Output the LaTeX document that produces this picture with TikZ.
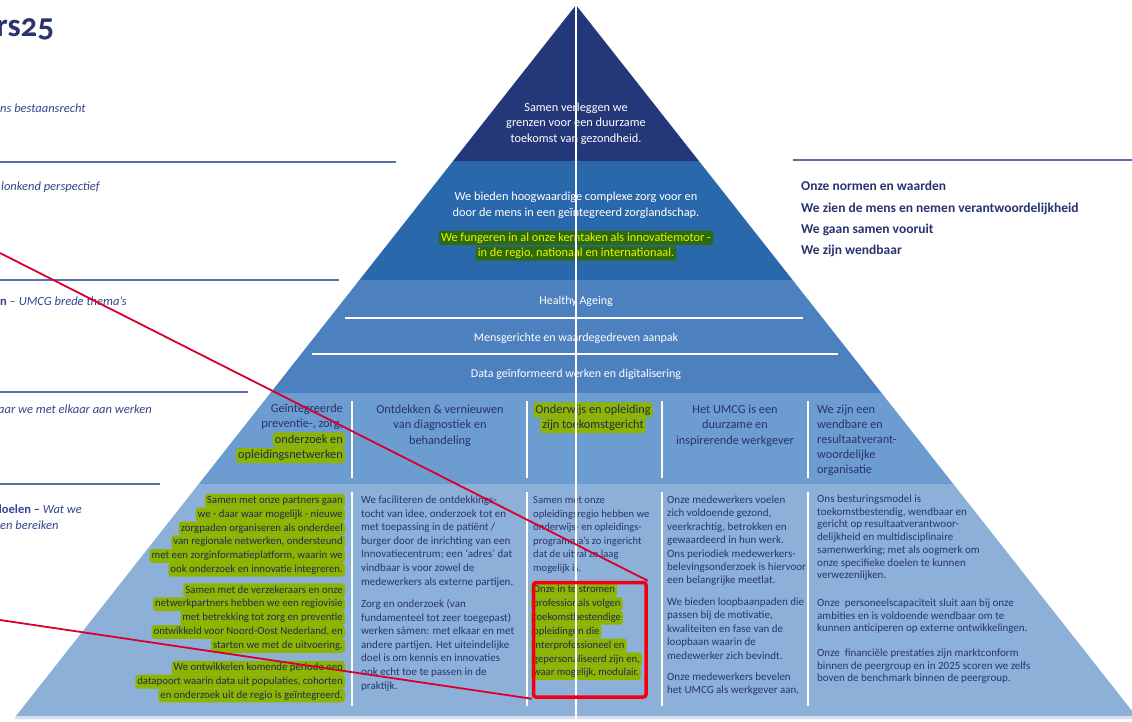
\documentclass[tikz,border=0pt]{standalone}
\usepackage{fontspec}
\setmainfont{Carlito}
\usetikzlibrary{calc}
\definecolor{navy}{HTML}{233779}
\definecolor{bandtwo}{HTML}{2A68AC}
\definecolor{bandthree}{HTML}{4C80BE}
\definecolor{bandfour}{HTML}{6C9CD0}
\definecolor{bandfive}{HTML}{8DB0D8}
\definecolor{basestrip}{HTML}{D5DFEE}
\definecolor{ink}{HTML}{28336F}
\definecolor{leftink}{HTML}{35458C}
\definecolor{rulecol}{HTML}{5A6EA8}
\definecolor{hlgreen}{HTML}{8DB500}
\definecolor{hltext}{HTML}{1F2A5A}
\definecolor{hldark}{HTML}{2E6A10}
\definecolor{hlyellow}{HTML}{ECF400}
\definecolor{redmark}{HTML}{F00010}
\definecolor{redconn}{HTML}{D8002C}
\tikzset{
  bodytext/.style={inner sep=0pt, text=ink, align=left, font=\fontsize{11}{13.6}\selectfont},
  headtext/.style={inner sep=0pt, text=ink, align=center, font=\fontsize{12.3}{15.5}\selectfont},
  whitetext/.style={inner sep=0pt, text=white, align=center, font=\fontsize{12.3}{15.5}\selectfont},
  thematext/.style={inner sep=0pt, text=white, font=\fontsize{12}{14}\selectfont},
  hlbox/.style={fill=hlgreen, text=hltext, rounded corners=3pt, inner xsep=2pt, inner ysep=1.6pt, text height=8pt, text depth=2.6pt, font=\fontsize{10.8}{13.6}\selectfont},
  hlhead/.style={hlbox, text height=9pt, text depth=3pt, font=\fontsize{12.3}{15.5}\selectfont},
  hltop/.style={fill=hldark, text=hlyellow, rounded corners=3pt, inner xsep=2pt, inner ysep=1.2pt, text height=9pt, text depth=3pt, font=\fontsize{12.3}{15.5}\selectfont},
  lefttext/.style={inner sep=0pt, text=leftink, font=\fontsize{12.5}{16}\selectfont},
  valuetext/.style={inner sep=0pt, text=ink, font=\fontsize{13.5}{21}\selectfont\bfseries},
  siderule/.style={draw=rulecol, line width=1.4pt},
  sepline/.style={draw=white, line width=1.3pt},
  focusbox/.style={draw=redmark, line width=3.5pt, rounded corners=2.5pt, minimum width=112.5pt, minimum height=114.5pt, inner sep=0pt},
  redlink/.style={draw=redconn, line width=1.8pt}
}
% #1 name prefix, #2 style, #3 anchor, #4 x, #5 first baseline y, #6 line step, #7 lines
\newcommand\hllines[7]{%
  \foreach \txt [count=\i from 0] in {#7} {%
    \node[#2, anchor=#3] (#1\i) at (#4, {#5+#6*\i}) {\txt};}}
\begin{document}
\begin{tikzpicture}[x=1pt,y=-1pt]
\useasboundingbox (0,0) rectangle (1132,721);
\fill[white] (0,0) rectangle (1132,721);
% ---------- pyramid bands ----------
\fill[navy] (576,5) -- (698.9,161) -- (453.1,161) -- cycle;
\fill[bandtwo] (453.1,161) -- (698.9,161) -- (792.6,280) -- (359.4,280) -- cycle;
\fill[bandthree] (359.4,280) -- (792.6,280) -- (881.6,393) -- (270.4,393) -- cycle;
\fill[bandfour] (270.4,393) -- (881.6,393) -- (953.3,484) -- (198.7,484) -- cycle;
\fill[bandfive] (198.7,484) -- (953.3,484) -- (1136,716) -- (16,716) -- cycle;
\fill[basestrip] (16,716) -- (1132,716) -- (1132,719) -- (14,719) -- cycle;
% ---------- white rules inside pyramid ----------
\draw[sepline] (345,318) -- (803,318);
\draw[sepline] (312,354) -- (838,354);
\foreach \xx in {352,527,662,808} {
  \draw[sepline] (\xx,401) -- (\xx,478);
  \draw[sepline] (\xx,492) -- (\xx,706);
}
% ---------- side rules ----------
\draw[siderule] (0,162) -- (396,162);
\draw[siderule] (0,280) -- (339,280);
\draw[siderule] (0,392) -- (248,392);
\draw[siderule] (0,484) -- (160,484);
\draw[siderule] (793,160) -- (1132,160);
% ---------- title and left labels ----------
\node[inner sep=0pt, text=ink, anchor=base west, font=\fontsize{33}{35}\selectfont\bfseries\addfontfeatures{Numbers=OldStyle}] (title) at (-4,36) {rs25};
\node[lefttext, anchor=base west] (lt1) at (0,112) {\itshape ns bestaansrecht};
\node[lefttext, anchor=base west] (lt2) at (1,190) {\itshape lonkend perspectief};
\node[lefttext, anchor=base west] (lt3) at (0,305) {{\bfseries n} \textit{– UMCG brede thema’s}};
\node[lefttext, anchor=base west] (lt4) at (-2,413) {\itshape aar we met elkaar aan werken};
\node[lefttext, anchor=base west] (lt5) at (-5,513) {{\bfseries doelen –} \textit{Wat we}};
\node[lefttext, anchor=base west] (lt6) at (0,529) {\itshape en bereiken};
% ---------- values on the right ----------
\node[valuetext, anchor=base west] (val0) at (801,190) {Onze normen en waarden};
\node[valuetext, anchor=base west] (val1) at (801,212) {We zien de mens en nemen verantwoordelijkheid};
\node[valuetext, anchor=base west] (val2) at (801,233) {We gaan samen vooruit};
\node[valuetext, anchor=base west] (val3) at (801,254) {We zijn wendbaar};
% ---------- top bands (anchor base = last line baseline) ----------
\node[whitetext, anchor=base] (vision) at (576,142) {Samen verleggen we\\grenzen voor een duurzame\\toekomst van gezondheid.};
\node[whitetext, anchor=base, font=\fontsize{12.3}{16}\selectfont] (mission) at (576,216) {We bieden hoogwaardige complexe zorg voor en\\door de mens in een geïntegreerd zorglandschap.};
\hllines{motor}{hltop}{base}{576}{241}{15.5}{We fungeren in al onze kerntaken als innovatiemotor -, {in de regio, nationaal en internationaal.}}
\node[thematext, anchor=base] (thema1) at (576,304) {Healthy Ageing};
\node[thematext, anchor=base] (thema2) at (576,341) {Mensgerichte en waardegedreven aanpak};
\node[thematext, anchor=base] (thema3) at (576,377) {Data geïnformeerd werken en digitalisering};
% ---------- column headers ----------
\node[headtext, anchor=base east, align=right] (h1) at (343,427.5) {Geïntegreerde\\preventie-, zorg,};
\hllines{h1hl}{hlhead}{base east}{345}{443}{15.5}{onderzoek en, opleidingsnetwerken}
\node[headtext, anchor=base] (h2) at (440,444) {Ontdekken \& vernieuwen\\van diagnostiek en\\behandeling};
\hllines{h3hl}{hlhead}{base}{593}{413}{15.5}{Onderwijs en opleiding, zijn toekomstgericht}
\node[headtext, anchor=base] (h4) at (735,444) {Het UMCG is een\\duurzame en\\inspirerende werkgever};
\node[headtext, anchor=base west, align=left, font=\fontsize{12.3}{15.2}\selectfont] (h5) at (817,473.8) {We zijn een\\wendbare en\\resultaatverant-\\woordelijke\\organisatie};
% ---------- column 1 (highlighted) ----------
\hllines{c1a}{hlbox}{base east}{345}{503.5}{13.8}{Samen met onze partners gaan, we - daar waar mogelijk - nieuwe, zorgpaden organiseren als onderdeel, {van regionale netwerken, ondersteund}, {met een zorginformatieplatform, waarin we}, ook onderzoek en innovatie integreren.}
\hllines{c1b}{hlbox}{base east}{345}{593}{13.9}{Samen met de verzekeraars en onze, netwerkpartners hebben we een regiovisie, met betrekking tot zorg en preventie, {ontwikkeld voor Noord-Oost Nederland, en}, starten we met de uitvoering.}
\hllines{c1c}{hlbox}{base east}{345}{670.5}{13.8}{We ontwikkelen komende periode een, {datapoort waarin data uit populaties, cohorten}, en onderzoek uit de regio is geïntegreerd.}
% ---------- column 2 ----------
\node[bodytext, anchor=base west] (c2a) at (361,585.1) {We faciliteren de ontdekkings-\\tocht van idee, onderzoek tot en\\met toepassing in de patiënt /\\burger door de inrichting van een\\Innovatiecentrum; een ‘adres’ dat\\vindbaar is voor zowel de\\medewerkers als externe partijen.};
\node[bodytext, anchor=base west] (c2b) at (361,689.1) {Zorg en onderzoek (van\\fundamenteel tot zeer toegepast)\\werken sámen: met elkaar en met\\andere partijen. Het uiteindelijke\\doel is om kennis en innovaties\\ook echt toe te passen in de\\praktijk.};
% ---------- column 3 ----------
\node[bodytext, anchor=base west, font=\fontsize{10.6}{13.6}\selectfont] (c3a) at (533,571.5) {Samen met onze\\opleidingsregio hebben we\\onderwijs- en opleidings-\\programma’s zo ingericht\\dat de uitval zo laag\\mogelijk is.};
\hllines{c3b}{hlbox, font=\fontsize{10.6}{13.6}\selectfont}{base west}{531}{592.5}{13.9}{Onze in te stromen, professionals volgen, toekomstbestendige, opleidingen die, interprofessioneel en, {gepersonaliseerd zijn en,}, {waar mogelijk, modulair.}}
% ---------- column 4 ----------
\node[bodytext, anchor=base west, font=\fontsize{11}{13.4}\selectfont] (c4a) at (667,583.9) {Onze medewerkers voelen\\zich voldoende gezond,\\veerkrachtig, betrokken en\\gewaardeerd in hun werk.\\Ons periodiek medewerkers-\\belevingsonderzoek is hiervoor\\een belangrijke meetlat.};
\node[bodytext, anchor=base west, font=\fontsize{11}{13.4}\selectfont] (c4b) at (667,659.1) {We bieden loopbaanpaden die\\passen bij de motivatie,\\kwaliteiten en fase van de\\loopbaan waarin de\\medewerker zich bevindt.};
\node[bodytext, anchor=base west, font=\fontsize{11}{13.4}\selectfont] (c4c) at (667,693.9) {Onze medewerkers bevelen\\het UMCG als werkgever aan.};
% ---------- column 5 ----------
\node[bodytext, anchor=base west, font=\fontsize{11}{12.7}\selectfont] (c5a) at (817,578.7) {Ons besturingsmodel is\\toekomstbestendig, wendbaar en\\gericht op resultaatverantwoor-\\delijkheid en multidisciplinaire\\samenwerking; met als oogmerk om\\onze specifieke doelen te kunnen\\verwezenlijken.};
\node[bodytext, anchor=base west, font=\fontsize{11}{12.7}\selectfont] (c5b) at (817,631.9) {Onze\ \ personeelscapaciteit sluit aan bij onze\\ambities en is voldoende wendbaar om te\\kunnen anticiperen op externe ontwikkelingen.};
\node[bodytext, anchor=base west, font=\fontsize{11}{12.7}\selectfont] (c5c) at (817,681.9) {Onze\ \ financiële prestaties zijn marktconform\\binnen de peergroup en in 2025 scoren we zelfs\\boven de benchmark binnen de peergroup.};
% ---------- central white axis ----------
\coordinate (axistop) at (576,5);
\coordinate (axisbot) at (576,721);
\draw[sepline, line width=1.2pt] (axistop) -- (axisbot);
% ---------- red annotation ----------
\node[focusbox, anchor=north west] (focus) at (531.75,580.75) {};
\coordinate (linkA) at (0,253);
\coordinate (linkB) at (0,620);
\draw[redlink] (linkA) -- (focus.north east);
\draw[redlink] (linkB) -- (focus.south west);
\end{tikzpicture}
\end{document}
